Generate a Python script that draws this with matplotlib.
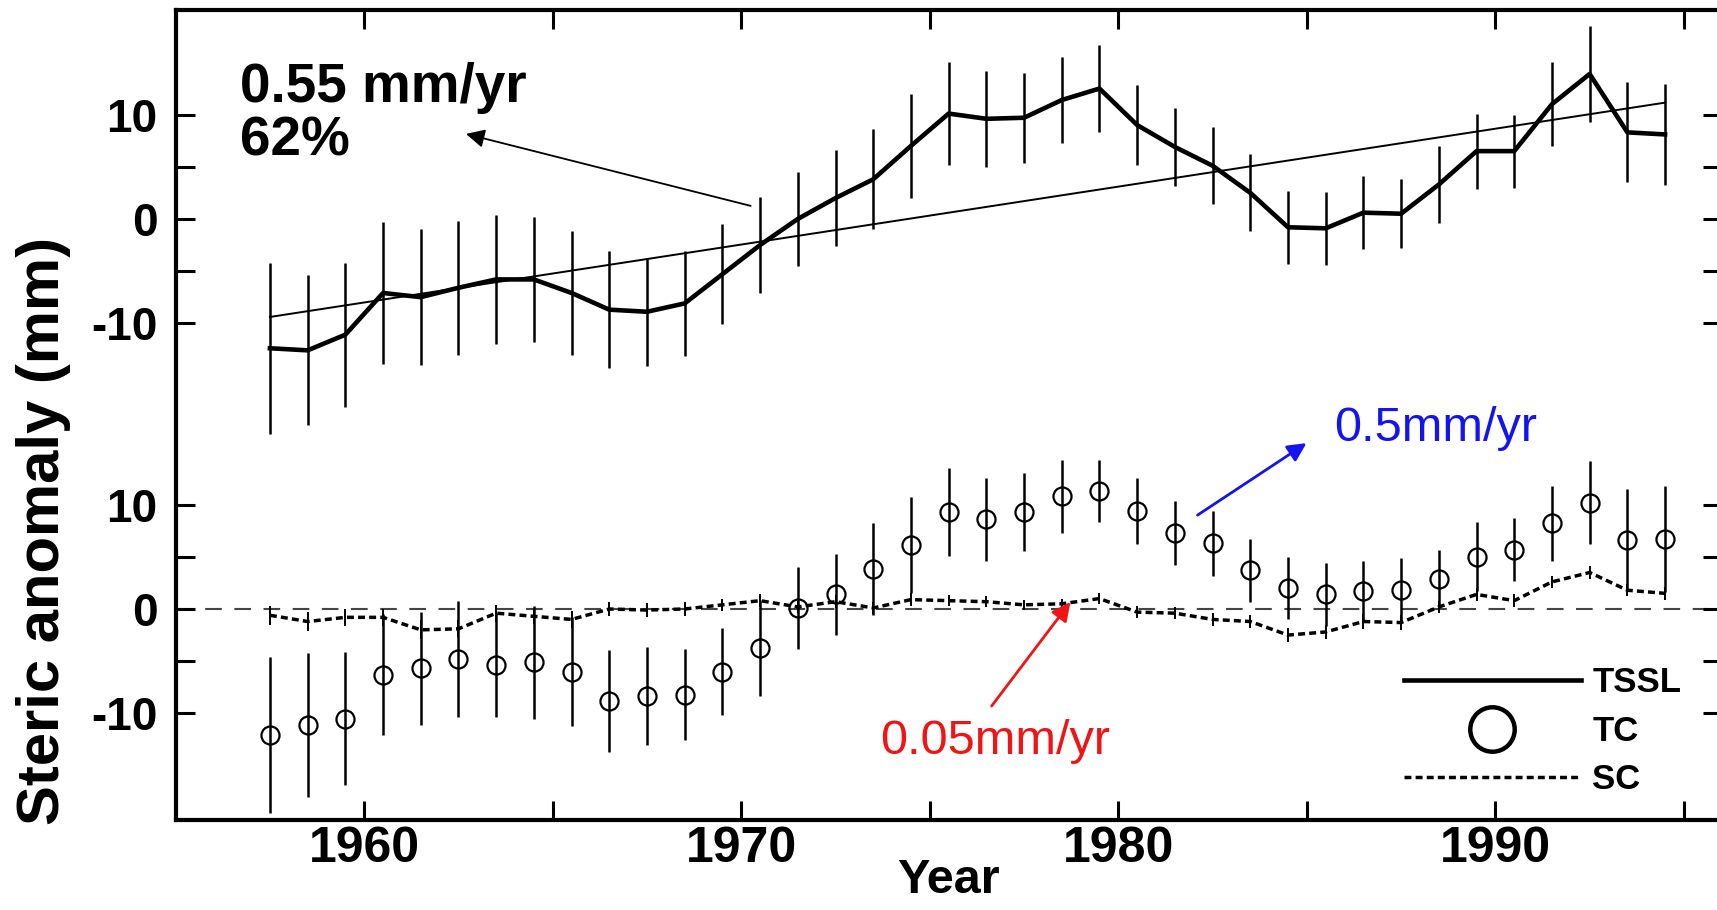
import numpy as np
import matplotlib
matplotlib.use('Agg')
import matplotlib.pyplot as plt
from matplotlib.lines import Line2D

plt.rcParams['font.family'] = ['Liberation Sans', 'DejaVu Sans']

# Data (mm), mid-year values
years = [1957.5, 1958.5, 1959.5, 1960.5, 1961.5, 1962.5, 1963.5, 1964.5,
         1965.5, 1966.5, 1967.5, 1968.5, 1969.5, 1970.5, 1971.5, 1972.5,
         1973.5, 1974.5, 1975.5, 1976.5, 1977.5, 1978.5, 1979.5, 1980.5,
         1981.5, 1982.5, 1983.5, 1984.5, 1985.5, 1986.5, 1987.5, 1988.5,
         1989.5, 1990.5, 1991.5, 1992.5, 1993.5, 1994.5]

# total steric sea level
tssl = [-12.4, -12.6, -11.1, -7.1, -7.5, -6.6, -5.8, -5.8, -7.1, -8.7,
        -8.9, -8.1, -5.3, -2.5, 0.0, 2.0, 3.8, 7.0, 10.1, 9.6,
        9.7, 11.4, 12.5, 9.0, 6.9, 5.1, 2.5, -0.8, -0.9, 0.6,
        0.5, 3.3, 6.5, 6.5, 11.0, 13.9, 8.3, 8.1]
tssl_err = [8.2, 7.2, 6.9, 6.8, 6.5, 6.4, 6.2, 6.0, 5.9, 5.6,
            5.2, 5.0, 4.8, 4.6, 4.5, 4.6, 4.8, 5.0, 4.9, 4.6,
            4.3, 4.1, 4.2, 3.8, 3.7, 3.7, 3.7, 3.5, 3.5, 3.5,
            3.3, 3.7, 3.6, 3.5, 4.0, 4.6, 4.8, 4.8]
trend_years = [1957.5, 1994.5]
trend_vals = [-9.4, 11.15]

# thermal contribution
tc = [-12.1, -11.1, -10.5, -6.3, -5.7, -4.8, -5.4, -5.1, -6.0, -8.8,
      -8.3, -8.2, -6.0, -3.7, 0.1, 1.4, 3.8, 6.1, 9.3, 8.6,
      9.3, 10.8, 11.3, 9.4, 7.3, 6.3, 3.7, 2.0, 1.4, 1.7,
      1.8, 2.9, 5.0, 5.7, 8.2, 10.2, 6.6, 6.7]
tc_err = [7.5, 6.9, 6.4, 5.8, 5.4, 5.6, 5.0, 5.4, 5.2, 4.9,
          4.7, 4.4, 4.2, 4.6, 3.9, 3.9, 4.4, 4.6, 4.2, 4.0,
          3.7, 3.5, 3.0, 3.2, 3.1, 3.1, 3.0, 3.0, 3.0, 2.9,
          3.1, 2.8, 3.3, 3.0, 3.6, 4.0, 4.9, 5.1]

# saline contribution
sc = [-0.6, -1.2, -0.8, -0.8, -2.0, -1.9, -0.4, -0.7, -1.0, 0.0,
      -0.1, 0.0, 0.4, 0.8, 0.2, 0.7, 0.1, 0.9, 0.8, 0.7,
      0.4, 0.5, 1.0, -0.3, -0.4, -1.0, -1.2, -2.5, -2.2, -1.2,
      -1.3, 0.2, 1.4, 0.8, 2.6, 3.5, 1.8, 1.5]
sc_err = [0.9, 0.9, 0.8, 0.8, 0.9, 0.8, 0.8, 0.7, 0.8, 0.7,
          0.7, 0.7, 0.6, 0.6, 0.6, 0.6, 0.6, 0.6, 0.5, 0.5,
          0.5, 0.5, 0.5, 0.6, 0.6, 0.6, 0.6, 0.7, 0.7, 0.7,
          0.7, 0.6, 0.6, 0.6, 0.6, 0.6, 0.6, 0.6]

OFFSET = 37.4  # the TSSL panel sits above the TC/SC panel on one axis

fig = plt.figure(figsize=(17.17, 9.10), dpi=100)
ax = fig.add_axes([0.1023, 0.0989, 0.9004, 0.8901])

# upper panel: TSSL with trend
up = np.array(tssl) + OFFSET
ax.errorbar(years, up, yerr=tssl_err, fmt='none', ecolor='k', elinewidth=1.8)
ax.plot(years, up, color='k', lw=3.3)
ax.plot(trend_years, np.array(trend_vals) + OFFSET, color='k', lw=1.4)

# lower panel: TC and SC
ax.axhline(0, color='#444444', lw=1.5, ls=(0, (8, 6)), zorder=1)
ax.errorbar(years, sc, yerr=sc_err, fmt='none', ecolor='k', elinewidth=1.4)
ax.plot(years, sc, color='k', lw=2.5, ls=(0, (2, 1.2)))
ax.errorbar(years, tc, yerr=tc_err, fmt='o', mfc='none', mec='k', ms=13,
            mew=1.6, ecolor='k', elinewidth=1.8, color='k')

# axes
ax.set_xlim(1955, 1996)
ax.set_ylim(-20.23, 57.43)
ax.set_xticks([1960, 1970, 1980, 1990])
ax.set_xticks([1965, 1975, 1985, 1995], minor=True)
ticks = [-10, -5, 0, 5, 10]
ax.set_yticks(ticks + [t + OFFSET for t in ticks])
ax.set_yticklabels(['-10', '', '0', '', '10'] * 2)
ax.tick_params(which='both', direction='in', length=14, width=2.2,
               top=True, right=True)
ax.tick_params(axis='x', labelsize=36, pad=4)
ax.tick_params(axis='y', labelsize=33, pad=13)
for lab in ax.get_xticklabels() + ax.get_yticklabels():
    lab.set_fontweight('bold')
for sp in ax.spines.values():
    sp.set_linewidth(3)

ax.set_xlabel('Year', fontsize=35, fontweight='bold', labelpad=-10)
ax.set_ylabel('Steric anomaly (mm)', fontsize=43, fontweight='bold')
ax.yaxis.set_label_coords(-0.068, 0.357)

# annotations
ax.text(1956.71, 52.45, '0.55 mm/yr\n62%', fontsize=39.5, fontweight='bold',
        ha='left', va='top', linespacing=1.05)
ax.annotate('', xy=(1962.7, 45.55), xytext=(1970.25, 38.65),
            arrowprops=dict(arrowstyle='-|>', color='k', lw=1.3,
                            mutation_scale=28, shrinkA=0, shrinkB=0))
ax.text(1985.73, 17.3, '0.5mm/yr', color='#1414f0', fontsize=35,
        ha='left', va='center')
ax.annotate('', xy=(1984.99, 15.9), xytext=(1982.1, 9.0),
            arrowprops=dict(arrowstyle='-|>', color='#1414f0', lw=2,
                            mutation_scale=28, shrinkA=0, shrinkB=0))
ax.text(1973.67, -12.7, '0.05mm/yr', color='#f01414', fontsize=35,
        ha='left', va='center')
ax.annotate('', xy=(1978.73, 0.67), xytext=(1976.64, -9.3),
            arrowprops=dict(arrowstyle='-|>', color='#f01414', lw=2,
                            mutation_scale=28, shrinkA=0, shrinkB=0))

# legend
handles = [Line2D([], [], color='k', lw=3.3),
           Line2D([], [], ls='none', marker='o', ms=32, mfc='none',
                  mec='k', mew=3.2),
           Line2D([], [], color='k', lw=2.5, ls=(0, (2, 1.2)))]
ax.legend(handles, ['TSSL', 'TC', 'SC'], loc='upper left',
          bbox_to_anchor=(0.7945, 0.19), frameon=False, borderpad=0,
          borderaxespad=0, handlelength=5.1, handletextpad=0.32,
          labelspacing=0.45, prop={'weight': 'bold', 'size': 25})

fig.savefig('out.png', dpi=100)
